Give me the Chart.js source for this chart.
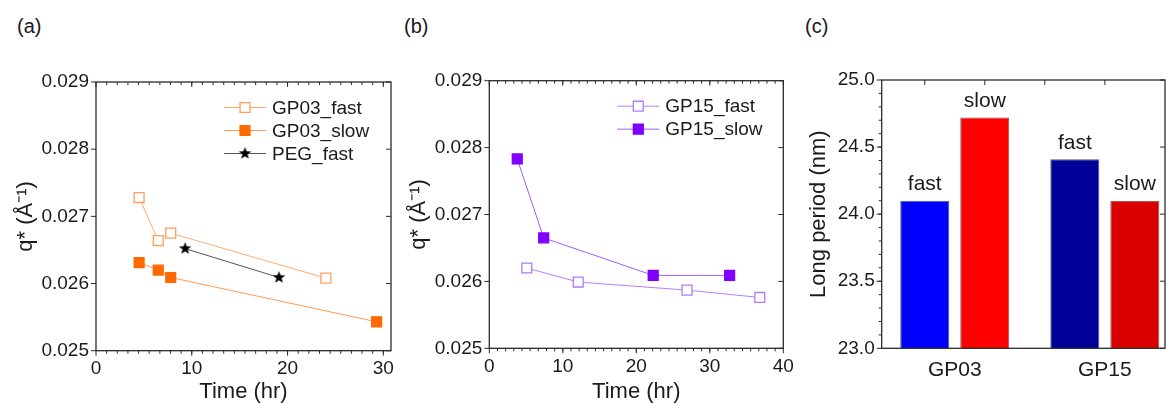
<!DOCTYPE html>
<html lang="en">
<head>
<meta charset="UTF-8">
<script src="https://cdn.jsdelivr.net/npm/chart.js"></script>
<title>q* vs time and long period</title>
<style>
  body { margin: 0; background: #fff; width: 1166px; height: 403px; overflow: hidden; position: relative;
         font-family: 'Liberation Sans', Arial, sans-serif; }
  canvas { position: absolute; top: 0; }
  .tag { position: absolute; top: 15px; font-size: 20px; color: #1a1a1a; }
</style>
</head>
<body>
<div class="tag" style="left:17px">(a)</div>
<div class="tag" style="left:404px">(b)</div>
<div class="tag" style="left:805px">(c)</div>
<canvas id="chartA" width="420" height="405" style="left:0"></canvas>
<canvas id="chartB" width="420" height="405" style="left:392px"></canvas>
<canvas id="chartC" width="386" height="405" style="left:780px"></canvas>

<script>
// panel (a)
const gp03FastTime = [4.5, 6.5, 7.8, 24.0];
const gp03FastQ = [0.02728, 0.02664, 0.02675, 0.02608];
const gp03SlowTime = [4.5, 6.5, 7.8, 29.3];
const gp03SlowQ = [0.02631, 0.02620, 0.02609, 0.02543];
const pegFastTime = [9.3, 19.1];
const pegFastQ = [0.02652, 0.02609];

// panel (b)
const gp15FastTime = [5.1, 12.1, 26.9, 36.8];
const gp15FastQ = [0.02620, 0.02599, 0.02587, 0.02576];
const gp15SlowTime = [3.8, 7.4, 22.3, 32.7];
const gp15SlowQ = [0.02783, 0.02665, 0.02609, 0.02609];

// panel (c)
const samples = ['GP03', 'GP15'];
const fastPeriod = [24.10, 24.41];
const slowPeriod = [24.72, 24.10];

const qTicks = [0.025, 0.026, 0.027, 0.028, 0.029];
const timeTicksA = [0, 10, 20, 30];
const timeTicksB = [0, 10, 20, 30, 40];
const periodTicks = [23.0, 23.5, 24.0, 24.5, 25.0];

const FONT = "'Liberation Sans', Arial, sans-serif";
Chart.defaults.font.family = FONT;
Chart.defaults.color = '#1a1a1a';
Chart.defaults.animation = false;

const pts = (xs, ys) => xs.map((x, i) => ({ x: x, y: ys[i] }));
const fixTicks = list => s => { s.ticks = list.map(v => ({ value: v })); };

// filled five point star used as marker
function makeStar(r) {
  const c = document.createElement('canvas');
  c.width = c.height = 2 * r + 2;
  const g = c.getContext('2d');
  g.fillStyle = '#000';
  g.beginPath();
  for (let i = 0; i < 10; i++) {
    const rr = i % 2 ? r * 0.42 : r;
    const a = -Math.PI / 2 + i * Math.PI / 5;
    g.lineTo(r + 1 + rr * Math.cos(a), r + 1 + rr * Math.sin(a));
  }
  g.closePath();
  g.fill();
  return c;
}
const star = makeStar(6.5);

// box frame with origin-like tick marks
const frame = {
  id: 'frame',
  afterDatasetsDraw(chart, args, o) {
    const { ctx, chartArea: a } = chart;
    const xs = chart.scales.x, ys = chart.scales.y;
    const line = (x1, y1, x2, y2) => { ctx.beginPath(); ctx.moveTo(x1, y1); ctx.lineTo(x2, y2); ctx.stroke(); };
    ctx.save();
    ctx.strokeStyle = '#2b2b2b';
    ctx.lineWidth = 1;
    (o.xMajor || []).forEach(v => {
      const p = xs.getPixelForValue(v);
      line(p, a.bottom, p, a.bottom + 5);
      line(p, a.top, p, a.top + 5);
    });
    if (o.xMinor) {
      for (let k = 1; k * o.xMinor < xs.max; k++) {
        const p = xs.getPixelForValue(k * o.xMinor);
        line(p, a.bottom, p, a.bottom + 3);
        line(p, a.top, p, a.top + 3);
      }
    }
    (o.xTop || []).forEach(v => {
      const p = xs.getPixelForValue(v);
      if (p < a.right - 1) line(p, a.top, p, a.top + 5);
    });
    (o.yMajor || []).forEach(v => {
      const p = ys.getPixelForValue(v);
      line(a.left - 5, p, a.left, p);
      line(a.right - 5, p, a.right, p);
    });
    if (o.yMinor) {
      for (let k = 1; ys.min + k * o.yMinor < ys.max - 1e-9; k++) {
        const p = ys.getPixelForValue(ys.min + k * o.yMinor);
        line(a.left - 3, p, a.left, p);
      }
    }
    ctx.lineWidth = 1.3;
    ctx.strokeRect(a.left, a.top, a.right - a.left, a.bottom - a.top);
    ctx.restore();
  }
};

// legend drawn inside the plot box
const innerLegend = {
  id: 'innerLegend',
  afterDraw(chart, args, o) {
    const { ctx, chartArea: a } = chart;
    ctx.save();
    chart.data.datasets.forEach((ds, i) => {
      const y = a.top + o.top + i * o.gap;
      const x0 = a.left + o.left;
      ctx.strokeStyle = ds.borderColor;
      ctx.lineWidth = ds.borderWidth;
      ctx.beginPath(); ctx.moveTo(x0, y); ctx.lineTo(x0 + 42, y); ctx.stroke();
      ctx.fillStyle = ds.pointBackgroundColor;
      ctx.strokeStyle = ds.pointBorderColor;
      ctx.lineWidth = ds.pointBorderWidth;
      Chart.helpers.drawPoint(ctx, { pointStyle: ds.pointStyle, radius: ds.pointRadius, rotation: 0, borderWidth: ds.pointBorderWidth }, x0 + 21, y);
      ctx.fillStyle = '#1a1a1a';
      ctx.font = '19px ' + FONT;
      ctx.textBaseline = 'middle';
      ctx.textAlign = 'left';
      ctx.fillText(ds.label, x0 + 48, y + 1);
    });
    ctx.restore();
  }
};

// fast / slow words above bars
const barTags = {
  id: 'barTags',
  afterDatasetsDraw(chart) {
    const ctx = chart.ctx;
    ctx.save();
    ctx.fillStyle = '#1a1a1a';
    ctx.font = '21px ' + FONT;
    ctx.textAlign = 'center';
    ctx.textBaseline = 'alphabetic';
    chart.data.datasets.forEach((ds, i) => {
      chart.getDatasetMeta(i).data.forEach(bar => ctx.fillText(ds.label, bar.x, bar.y - 10.5));
    });
    ctx.restore();
  }
};

function lineSet(label, data, line, stroke, fill, style, r) {
  return {
    label: label, data: data, showLine: true,
    borderColor: line, borderWidth: 1,
    pointStyle: style, pointRadius: r, pointHoverRadius: r,
    pointBackgroundColor: fill, pointBorderColor: stroke, pointBorderWidth: 1.3
  };
}

function qOptions(xmax, xticks, pad, yWidth, xHeight) {
  return {
    responsive: false,
    layout: { padding: pad },
    plugins: {
      legend: { display: false },
      tooltip: { enabled: false },
      frame: { xMajor: xticks, xMinor: 10 / 9, yMajor: qTicks },
      innerLegend: { left: 128, top: 25.5, gap: 23 }
    },
    scales: {
      x: {
        type: 'linear', min: 0, max: xmax,
        afterBuildTicks: fixTicks(xticks),
        afterFit: s => { s.height = xHeight; },
        grid: { display: false, drawTicks: false },
        border: { display: false },
        ticks: { font: { size: 19 }, padding: 7, color: '#1a1a1a' },
        title: { display: true, text: 'Time (hr)', font: { size: 22 }, padding: 0, color: '#1a1a1a' }
      },
      y: {
        min: 0.025, max: 0.029,
        afterBuildTicks: fixTicks(qTicks),
        afterFit: s => { s.width = yWidth; },
        grid: { display: false, drawTicks: false },
        border: { display: false },
        ticks: { font: { size: 19 }, padding: 7, color: '#1a1a1a', callback: v => Number(v).toFixed(3) },
        title: { display: true, text: 'q* (Å⁻¹)', font: { size: 22 }, padding: 0, color: '#1a1a1a' }
      }
    }
  };
}

new Chart(document.getElementById('chartA'), {
  type: 'scatter',
  data: {
    datasets: [
      lineSet('GP03_fast', pts(gp03FastTime, gp03FastQ), '#ffab70', '#ff9f5c', '#ffffff', 'rect', 7),
      lineSet('GP03_slow', pts(gp03SlowTime, gp03SlowQ), '#ff9a55', '#ff6a00', '#ff6a00', 'rect', 7),
      lineSet('PEG_fast', pts(pegFastTime, pegFastQ), '#555555', '#000000', '#000000', star, 7)
    ]
  },
  options: qOptions(30.8, timeTicksA, { left: 13, top: 82, right: 29, bottom: 0 }, 83, 54.3),
  plugins: [frame, innerLegend]
});

new Chart(document.getElementById('chartB'), {
  type: 'scatter',
  data: {
    datasets: [
      lineSet('GP15_fast', pts(gp15FastTime, gp15FastQ), '#b77dff', '#b07aff', '#ffffff', 'rect', 7),
      lineSet('GP15_slow', pts(gp15SlowTime, gp15SlowQ), '#a35cff', '#7f00ff', '#7f00ff', 'rect', 7)
    ]
  },
  options: qOptions(40, timeTicksB, { left: 14, top: 80.7, right: 28.7, bottom: 0 }, 83.3, 56.7),
  plugins: [frame, innerLegend]
});

new Chart(document.getElementById('chartC'), {
  type: 'bar',
  data: {
    datasets: [
      { label: 'fast', data: pts([1, 2], fastPeriod), backgroundColor: ['#0000ff', '#000099'], borderColor: '#5a5a6a', borderWidth: 1 },
      { label: 'slow', data: pts([1, 2], slowPeriod), backgroundColor: ['#ff0000', '#d90000'], borderColor: '#6a5a5a', borderWidth: 1 }
    ]
  },
  options: {
    responsive: false,
    categoryPercentage: 0.8,
    barPercentage: 0.817,
    layout: { padding: { left: 26, top: 80, right: 1, bottom: 0 } },
    plugins: {
      legend: { display: false },
      tooltip: { enabled: false },
      frame: { xTop: [0.8, 1.2, 1.6, 2.0, 2.4], yMajor: periodTicks, yMinor: 0.1 }
    },
    scales: {
      x: {
        type: 'linear', min: 0.513, max: 2.401, offset: false,
        afterBuildTicks: fixTicks([1, 2]),
        afterFit: s => { s.height = 56.7; },
        grid: { display: false, drawTicks: false },
        border: { display: false },
        ticks: { font: { size: 21 }, padding: 9, color: '#1a1a1a', callback: v => samples[Math.round(v) - 1] }
      },
      y: {
        min: 23, max: 25,
        afterBuildTicks: fixTicks(periodTicks),
        afterFit: s => { s.width = 75.7; },
        grid: { display: false, drawTicks: false },
        border: { display: false },
        ticks: { font: { size: 19 }, padding: 7, color: '#1a1a1a', callback: v => Number(v).toFixed(1) },
        title: { display: true, text: 'Long period (nm)', font: { size: 22 }, padding: 0, color: '#1a1a1a' }
      }
    }
  },
  plugins: [frame, barTags]
});
</script>
</body>
</html>
